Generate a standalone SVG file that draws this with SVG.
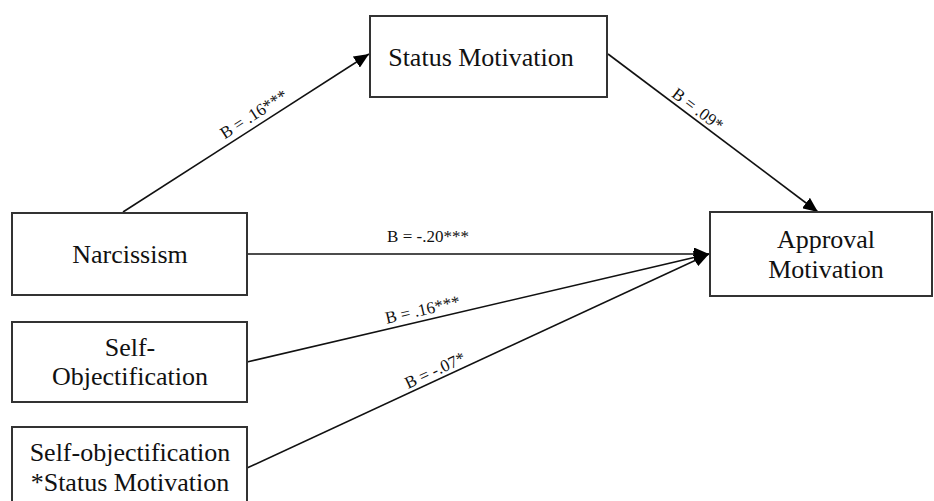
<svg xmlns="http://www.w3.org/2000/svg" width="934" height="501" viewBox="0 0 934 501">
  <defs>
    <style>
      .box { fill: #ffffff; stroke: #333333; stroke-width: 2; }
      .lbl { font-family: "Liberation Serif", "Times New Roman", serif; font-size: 26px; fill: #111111; text-anchor: middle; }
      .coef { font-family: "Liberation Serif", "Times New Roman", serif; font-size: 17px; fill: #111111; text-anchor: middle; }
      .edge { stroke: #111111; stroke-width: 1.6; fill: none; marker-end: url(#arrow); }
    </style>
    <marker id="arrow" markerUnits="userSpaceOnUse" markerWidth="15" markerHeight="13" refX="15" refY="6.5" orient="auto">
      <path d="M0,0 L15,6.5 L0,13 z" fill="#000000"/>
    </marker>
  </defs>
  <rect width="934" height="501" fill="#ffffff"/>

  <g id="connectors">
    <line class="edge" x1="123" y1="212" x2="369" y2="54"/>
    <line class="edge" x1="608" y1="54" x2="818" y2="212"/>
    <line class="edge" x1="247" y1="254" x2="709" y2="254"/>
    <line class="edge" x1="247" y1="362" x2="709" y2="254"/>
    <line class="edge" x1="247" y1="468" x2="709" y2="254"/>
    <g transform="translate(260,124) rotate(-32.7)"><text class="coef" x="0" y="-6">B = .16***</text></g>
    <g transform="translate(692,117) rotate(37)"><text class="coef" x="0" y="-4">B = .09*</text></g>
    <text class="coef" x="428" y="242">B = -.20***</text>
    <g transform="translate(425,320) rotate(-13.2)"><text class="coef" x="0" y="-5">B = .16***</text></g>
    <g transform="translate(439,379) rotate(-24.9)"><text class="coef" x="0" y="-4">B = -.07*</text></g>
  </g>

  <g id="status">
    <rect class="box" x="370" y="16" width="237" height="81"/>
    <text class="lbl" x="481" y="66">Status Motivation</text>
  </g>

  <g id="narcissism">
    <rect class="box" x="12" y="213" width="235" height="82"/>
    <text class="lbl" x="130" y="263">Narcissism</text>
  </g>

  <g id="selfobj">
    <rect class="box" x="12" y="322" width="235" height="80"/>
    <text class="lbl" x="130" y="356">Self-</text>
    <text class="lbl" x="130" y="385">Objectification</text>
  </g>

  <g id="interaction">
    <rect class="box" x="12" y="427" width="235" height="80"/>
    <text class="lbl" x="130" y="461">Self-objectification</text>
    <text class="lbl" x="130" y="491">*Status Motivation</text>
  </g>

  <g id="approval">
    <rect class="box" x="710" y="212" width="222" height="84"/>
    <text class="lbl" x="826" y="248">Approval</text>
    <text class="lbl" x="826" y="278">Motivation</text>
  </g>
</svg>
